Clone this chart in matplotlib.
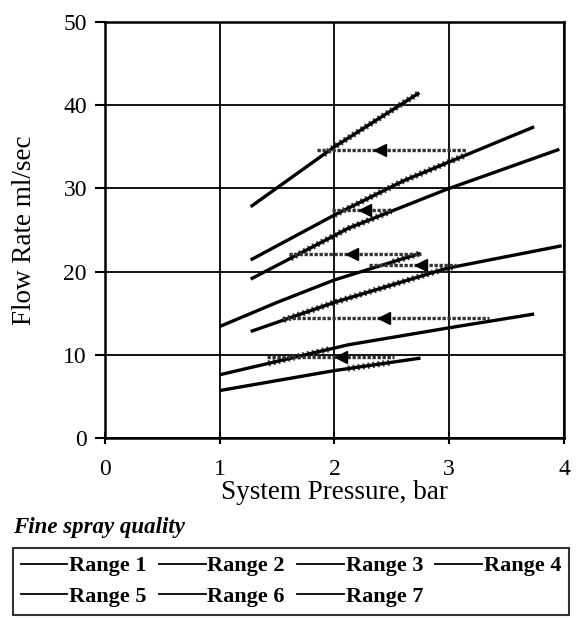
import numpy as np
import matplotlib
matplotlib.use("Agg")
import matplotlib.pyplot as plt
from matplotlib.lines import Line2D
from matplotlib.transforms import Bbox, TransformedBbox

plt.rcParams["font.family"] = ["Liberation Serif", "DejaVu Serif"]

# pressure (bar) / flow (ml/sec) points
range_names = ["Range 1", "Range 2", "Range 3", "Range 4", "Range 5", "Range 6", "Range 7"]
r1_x = [1.27, 2.0, 2.74]
r1_y = [27.8, 35.0, 41.5]
r2_x = [1.27, 2.0, 2.6, 3.74]
r2_y = [21.4, 26.8, 30.9, 37.4]
r3_x = [1.27, 2.12, 2.98, 3.96]
r3_y = [19.1, 25.2, 29.9, 34.7]
r4_x = [1.0, 1.5, 2.0, 2.75]
r4_y = [13.4, 16.3, 19.0, 22.2]
r5_x = [1.27, 2.0, 2.98, 3.98]
r5_y = [12.8, 16.3, 20.4, 23.1]
r6_x = [1.0, 2.12, 2.98, 3.74]
r6_y = [7.6, 11.2, 13.2, 14.9]
r7_x = [1.0, 2.0, 2.75]
r7_y = [5.7, 8.1, 9.6]
ranges_x = [r1_x, r2_x, r3_x, r4_x, r5_x, r6_x, r7_x]
ranges_y = [r1_y, r2_y, r3_y, r4_y, r5_y, r6_y, r7_y]

# pressure window highlighted (hatched) on each range line
hatch_from = [1.92, 2.0, 1.6, 2.5, 1.55, 1.41, 2.1]
hatch_to = [2.74, 3.15, 2.5, 2.75, 3.05, 1.95, 2.5]

# horizontal arrows: flow level, right end, left end, arrow head
arrow_y = [34.6, 27.4, 22.1, 20.8, 14.4, 9.7]
arrow_right = [3.15, 2.50, 2.75, 3.06, 3.35, 2.52]
arrow_left = [1.85, 1.98, 1.60, 2.30, 1.54, 1.41]
arrow_head = [2.40, 2.27, 2.15, 2.75, 2.43, 2.06]

x_ticks = [0, 1, 2, 3, 4]
y_ticks = [0, 10, 20, 30, 40, 50]

fig = plt.figure(figsize=(5.83, 6.18), dpi=100)
ax = fig.add_axes([0.180, 0.2913, 0.7874, 0.6731])

ax.set_xlim(0, 4)
ax.set_ylim(0, 50)
ax.set_xticks(x_ticks)
ax.set_yticks(y_ticks)
ax.grid(True, color="black", lw=1.3)
ax.set_axisbelow(True)
for sp in ax.spines.values():
    sp.set_color("black")
    sp.set_linewidth(1.8)

for xs, ys, h0, h1 in zip(ranges_x, ranges_y, hatch_from, hatch_to):
    ax.plot(xs, ys, color="black", lw=2.4, solid_capstyle="butt", zorder=3)
    hl, = ax.plot(xs, ys, color="#444444", lw=4.5, linestyle=(0, (0.3, 0.5)), zorder=2)
    hl.set_clip_box(TransformedBbox(Bbox([[h0, 0], [h1, 50]]), ax.transData))

for y, xr, xl, xh in zip(arrow_y, arrow_right, arrow_left, arrow_head):
    ax.plot([xl, xr], [y, y], color="#333333", lw=2.4, linestyle=(0, (1.0, 0.5)), zorder=4)
    ax.plot([xh], [y], marker="<", ms=9, color="black", zorder=5)

ax.tick_params(axis="x", direction="inout", length=8, width=1.5, labelsize=17, pad=11)
ax.tick_params(axis="y", direction="out", length=7, width=1.5, labelsize=17, pad=6)
ax.set_xlabel("System Pressure, bar", fontsize=19.5, labelpad=0)
ax.set_ylabel("Flow Rate ml/sec", fontsize=19.5, labelpad=19)

fig.text(13 / 583, 1 - 527 / 618, "Fine spray quality", fontsize=16.5,
         style="italic", weight="bold", ha="left", va="center")

handles = [Line2D([0], [0], color="black", lw=1.3) for _ in range_names]
order = [0, 4, 1, 5, 2, 6, 3]
leg = fig.legend([handles[i] for i in order], [range_names[i] for i in order],
                 ncol=4, loc="upper left", bbox_to_anchor=(13 / 583, 1 - 548 / 618),
                 borderaxespad=0, frameon=True, fancybox=False, edgecolor="black",
                 handlelength=2.1, handletextpad=0.08, columnspacing=0.55,
                 labelspacing=0.45, borderpad=0.35,
                 prop={"size": 16, "weight": "bold"})
leg.get_frame().set_linewidth(1.5)

fig.savefig("out.png", dpi=100)
